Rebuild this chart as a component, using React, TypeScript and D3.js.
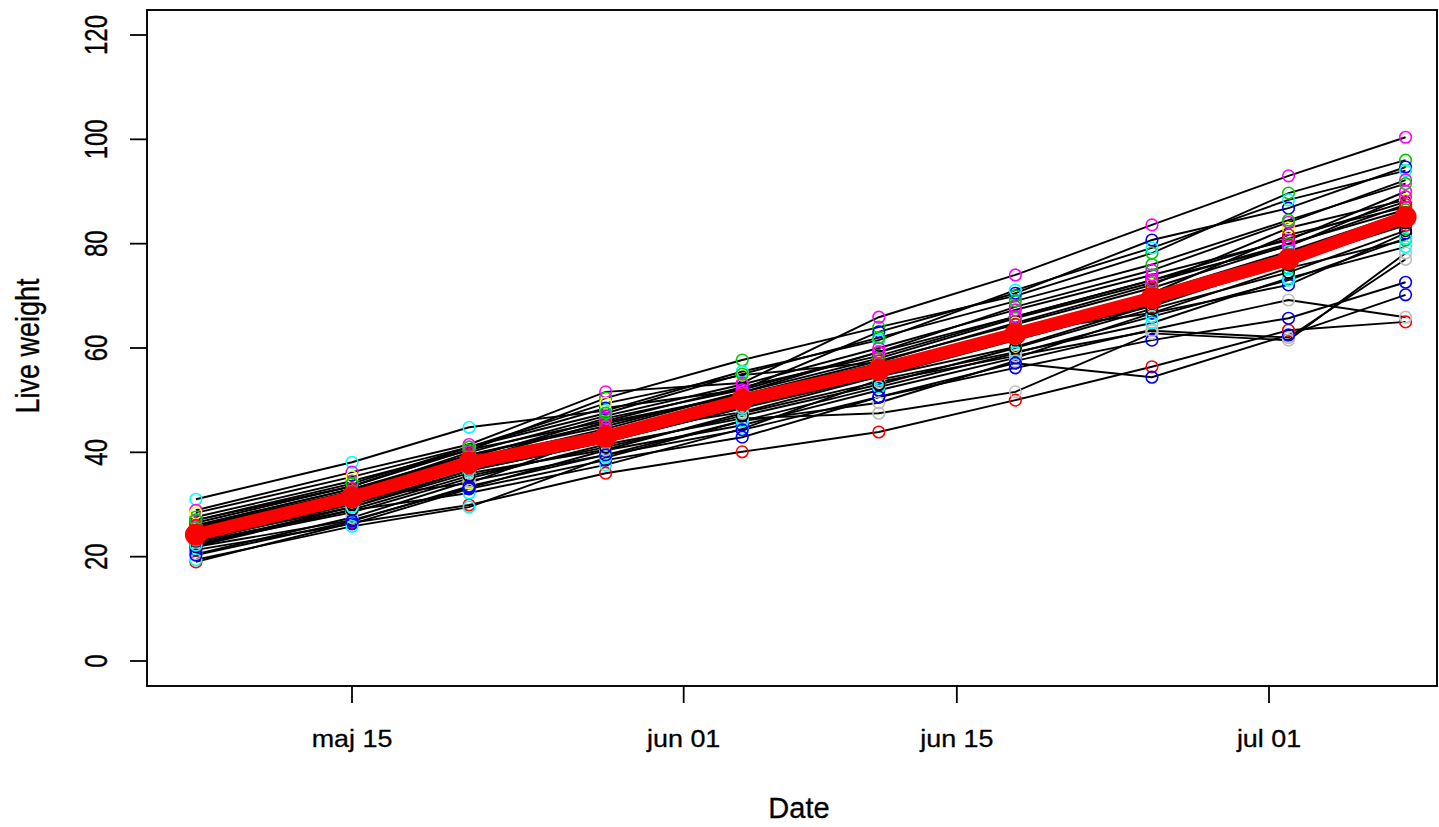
import React from 'react'
import * as d3 from 'd3'

// weighing dates, one column per date
const weighDates = ['2015-05-07', '2015-05-15', '2015-05-21', '2015-05-28', '2015-06-04',
  '2015-06-11', '2015-06-18', '2015-06-25', '2015-07-02', '2015-07-08']

const tickDates = ['2015-05-15', '2015-06-01', '2015-06-15', '2015-07-01']
const tickLabels = ['maj 15', 'jun 01', 'jun 15', 'jul 01']
const yTicks = [0, 20, 40, 60, 80, 100, 120]

// herd mean (red line)
const meanWeight = [24.2, 31.4, 38.0, 43.0, 50.0, 55.8, 62.7, 69.6, 77.0, 85.1]

// live weight per animal, colour follows R's palette by animal number
const animals = [
  [26.5, 33.5, 40.5, 46.0, 52.5, 58.5, 66.0, 73.0, 81.0, 88.0],
  [19.0, 26.5, 29.9, 36.0, 40.1, 43.9, 50.0, 56.4, 63.4, 65.0],
  [27.6, 34.5, 40.4, 50.4, 57.7, 64.0, 70.0, 78.2, 89.7, 96.0],
  [27.0, 33.5, 41.0, 48.5, 52.0, 63.1, 70.5, 80.7, 86.8, 94.7],
  [31.0, 38.1, 44.8, 48.0, 55.5, 61.5, 71.1, 79.2, 88.4, 94.0],
  [28.9, 36.2, 41.5, 51.6, 53.3, 65.9, 74.0, 83.6, 93.0, 100.4],
  [28.4, 35.3, 41.0, 49.4, 54.8, 57.3, 64.8, 72.1, 83.0, 88.4],
  [22.5, 28.5, 35.0, 41.5, 46.5, 47.5, 51.6, 62.8, 61.5, 78.2],
  [24.0, 31.0, 37.5, 43.0, 49.5, 55.5, 62.5, 69.5, 77.0, 85.0],
  [25.0, 32.0, 38.0, 44.0, 50.5, 56.5, 63.5, 70.5, 81.7, 87.0],
  [24.5, 31.5, 38.5, 45.8, 51.0, 57.0, 63.0, 66.7, 75.3, 80.7],
  [21.9, 27.0, 33.2, 40.4, 45.2, 51.9, 58.1, 66.7, 72.1, 82.0],
  [22.8, 28.9, 32.2, 37.6, 44.5, 53.9, 59.2, 64.8, 73.4, 79.4],
  [26.0, 33.0, 39.0, 46.5, 52.0, 59.2, 67.9, 74.9, 84.1, 92.2],
  [24.5, 31.2, 34.1, 43.5, 47.7, 54.5, 60.2, 68.2, 77.5, 86.0],
  [20.5, 27.5, 34.5, 39.5, 46.0, 49.5, 57.5, 63.5, 69.2, 65.9],
  [23.0, 30.0, 36.5, 42.0, 48.5, 54.5, 61.5, 68.5, 76.0, 84.0],
  [23.5, 30.5, 37.0, 42.5, 49.0, 55.0, 62.0, 68.0, 76.5, 83.5],
  [25.5, 32.5, 39.5, 45.0, 51.5, 58.0, 65.7, 72.5, 80.0, 86.5],
  [21.3, 26.3, 33.0, 38.5, 42.9, 50.6, 56.2, 61.5, 65.7, 72.6],
  [19.4, 25.8, 29.5, 39.0, 46.0, 52.5, 59.0, 66.0, 73.0, 81.0],
  [25.8, 32.5, 40.0, 47.0, 53.0, 60.0, 67.3, 74.0, 80.7, 90.0],
  [24.2, 31.0, 37.5, 43.0, 49.0, 55.5, 62.0, 69.0, 77.0, 85.5],
  [23.2, 29.5, 36.0, 40.5, 47.5, 53.5, 58.5, 63.3, 62.0, 77.0],
  [22.0, 29.0, 35.5, 41.0, 47.0, 53.0, 60.0, 67.5, 74.5, 82.5],
  [26.0, 33.0, 39.5, 45.5, 51.0, 57.5, 64.5, 71.5, 79.7, 87.5],
  [27.0, 34.0, 41.0, 47.5, 55.0, 62.0, 69.0, 76.0, 84.5, 91.5],
  [20.3, 26.8, 33.5, 39.5, 44.3, 50.6, 57.1, 54.4, 62.5, 70.2],
  [22.2, 29.5, 36.5, 42.0, 48.5, 55.0, 62.5, 70.5, 78.5, 86.0],
  [24.8, 32.0, 38.5, 44.5, 51.5, 59.2, 66.0, 73.0, 79.5, 89.0],
]

const palette = ['black', 'red', '#00CD00', 'blue', 'cyan', 'magenta', 'yellow', '#BEBEBE']

const W = 1439
const H = 827
const box = { left: 147, top: 10, right: 1437, bottom: 686 }
const font = '"Liberation Sans", Arial, sans-serif'

export default function App() {
  const parse = d3.utcParse('%Y-%m-%d')
  const dates = weighDates.map(d => parse(d) as Date)

  const x = d3.scaleUtc()
    .domain([parse('2015-05-15') as Date, parse('2015-07-01') as Date])
    .range([352, 1269])
  const y = d3.scaleLinear().domain([0, 120]).range([661, 35])

  const line = d3.line<number>()
    .x((_, i) => x(dates[i]))
    .y(v => y(v))

  return (
    <div style={{ position: 'absolute', left: 0, top: 0 }}>
      <svg width={W} height={H} style={{ display: 'block', background: '#fff' }}>
        {/* animal lines */}
        <g fill="none" stroke="#000" strokeWidth={1.9}>
          {animals.map((a, i) => <path key={i} d={line(a) || ''} />)}
        </g>
        {/* animal points */}
        <g fill="none" strokeWidth={1.6}>
          {animals.map((a, i) => a.map((v, j) => (
            <circle key={`${i}-${j}`} cx={x(dates[j])} cy={y(v)} r={5.8}
              stroke={palette[i % palette.length]} />
          )))}
        </g>
        {/* mean */}
        <path d={line(meanWeight) || ''} fill="none" stroke="red" strokeWidth={13}
          strokeLinejoin="round" />
        <g fill="red">
          {meanWeight.map((v, j) => <circle key={j} cx={x(dates[j])} cy={y(v)} r={11} />)}
        </g>

        {/* frame */}
        <rect x={box.left} y={box.top} width={box.right - box.left} height={box.bottom - box.top}
          fill="none" stroke="#000" strokeWidth={1.9} />

        {/* y axis */}
        <g fontFamily={font} fontSize={24} fill="#000" stroke="#000" strokeWidth={0.3}>
          {yTicks.map(t => (
            <g key={t}>
              <line x1={130} x2={box.left} y1={y(t)} y2={y(t)} strokeWidth={1.8} />
              <text transform={`translate(107, ${y(t)}) scale(1.3, 1) rotate(-90)`}
                textAnchor="middle">{t}</text>
            </g>
          ))}
          <text transform={`translate(39, 346) scale(1.2, 1) rotate(-90)`} fontSize={27}
            textAnchor="middle">Live weight</text>
        </g>

        {/* x axis */}
        <g fontFamily={font} fontSize={24} fill="#000" stroke="#000" strokeWidth={0.3}>
          {tickDates.map((d, i) => {
            const px = x(parse(d) as Date)
            return (
              <g key={d}>
                <line x1={px} x2={px} y1={box.bottom} y2={703} strokeWidth={1.8} />
                <text transform={`translate(${px}, 747) scale(1.12, 1)`} textAnchor="middle">
                  {tickLabels[i]}
                </text>
              </g>
            )
          })}
          <text x={799} y={818} fontSize={29} textAnchor="middle">Date</text>
        </g>
      </svg>
    </div>
  )
}
